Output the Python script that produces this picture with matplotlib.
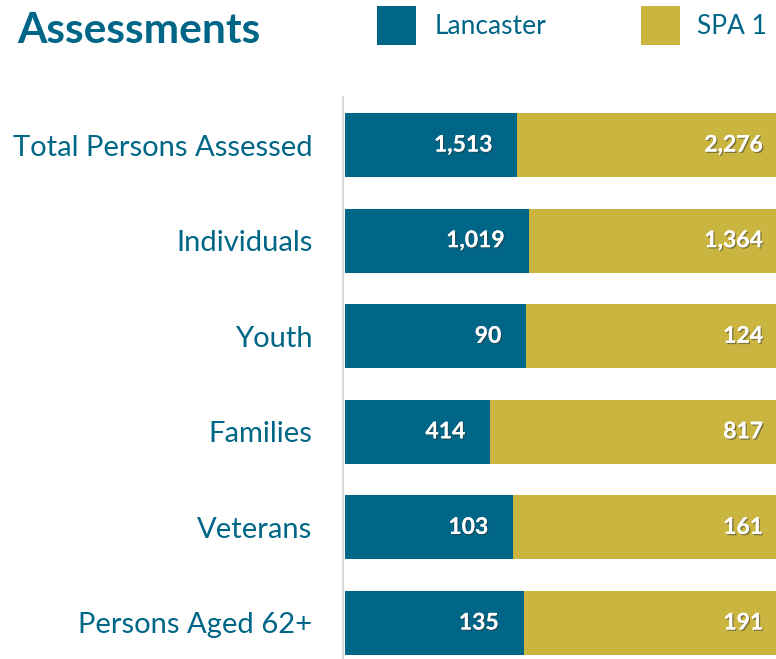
import numpy as np
import matplotlib.pyplot as plt
import matplotlib.patheffects as pe
from matplotlib.patches import Rectangle

# --- data ---
categories = ['Total Persons Assessed', 'Individuals', 'Youth', 'Families', 'Veterans', 'Persons Aged 62+']
lancaster = [1513, 1019, 90, 414, 103, 135]
spa1 = [2276, 1364, 124, 817, 161, 191]
series_names = ['Lancaster', 'SPA 1']

teal = '#006687'
gold = '#CAB540'
plt.rcParams['font.family'] = ['Lato', 'DejaVu Sans']

lan = np.array(lancaster, dtype=float)
spa = np.array(spa1, dtype=float)
total = lan + spa
lan_share = lan / total
spa_share = spa / total
y = np.arange(len(categories))

W, H = 776, 659
fig = plt.figure(figsize=(W / 100, H / 100), dpi=100)
ax = fig.add_axes([343 / W, 0, 1 - 343 / W, 1 - 97 / H])

ax.barh(y, lan_share, height=0.67, color=teal, left=0)
ax.barh(y, spa_share, height=0.67, color=gold, left=lan_share)
ax.set_xlim(-0.005, 1.0)
ax.set_ylim(5.377, -0.503)

shadow = [pe.withSimplePatchShadow(offset=(1, -1), shadow_rgbFace='#333333', alpha=0.5), pe.Normal()]
for i in range(len(categories)):
    ax.annotate(f'{lancaster[i]:,}', xy=(lan_share[i], y[i]), xytext=(-18, 0), textcoords='offset points',
                ha='right', va='center', color='white', fontsize=16.5, fontweight='bold', path_effects=shadow)
    ax.annotate(f'{spa1[i]:,}', xy=(1.0, y[i]), xytext=(-9.5, 0), textcoords='offset points',
                ha='right', va='center', color='white', fontsize=16.5, fontweight='bold', path_effects=shadow)

ax.set_yticks(y)
ax.set_yticklabels(categories, fontsize=21, color=teal)
ax.tick_params(axis='y', length=0, pad=22)
ax.set_xticks([])
for s in ['top', 'right', 'bottom']:
    ax.spines[s].set_visible(False)
ax.spines['left'].set_color('#d9d9d9')
ax.spines['left'].set_linewidth(1.5)

# title and legend
fig.text(17 / W, 1 - 31 / H, 'Assessments', fontsize=30.5, fontweight='bold', color=teal, ha='left', va='center')
for name, col, sx, tx in [(series_names[0], teal, 377, 435), (series_names[1], gold, 641, 697)]:
    fig.patches.append(Rectangle((sx / W, 1 - 45 / H), 39 / W, 39 / H, transform=fig.transFigure,
                                 facecolor=col, edgecolor='none'))
    fig.text(tx / W, 1 - 27 / H, name, fontsize=19, color=teal, ha='left', va='center')

fig.savefig('out.png', dpi=100)
